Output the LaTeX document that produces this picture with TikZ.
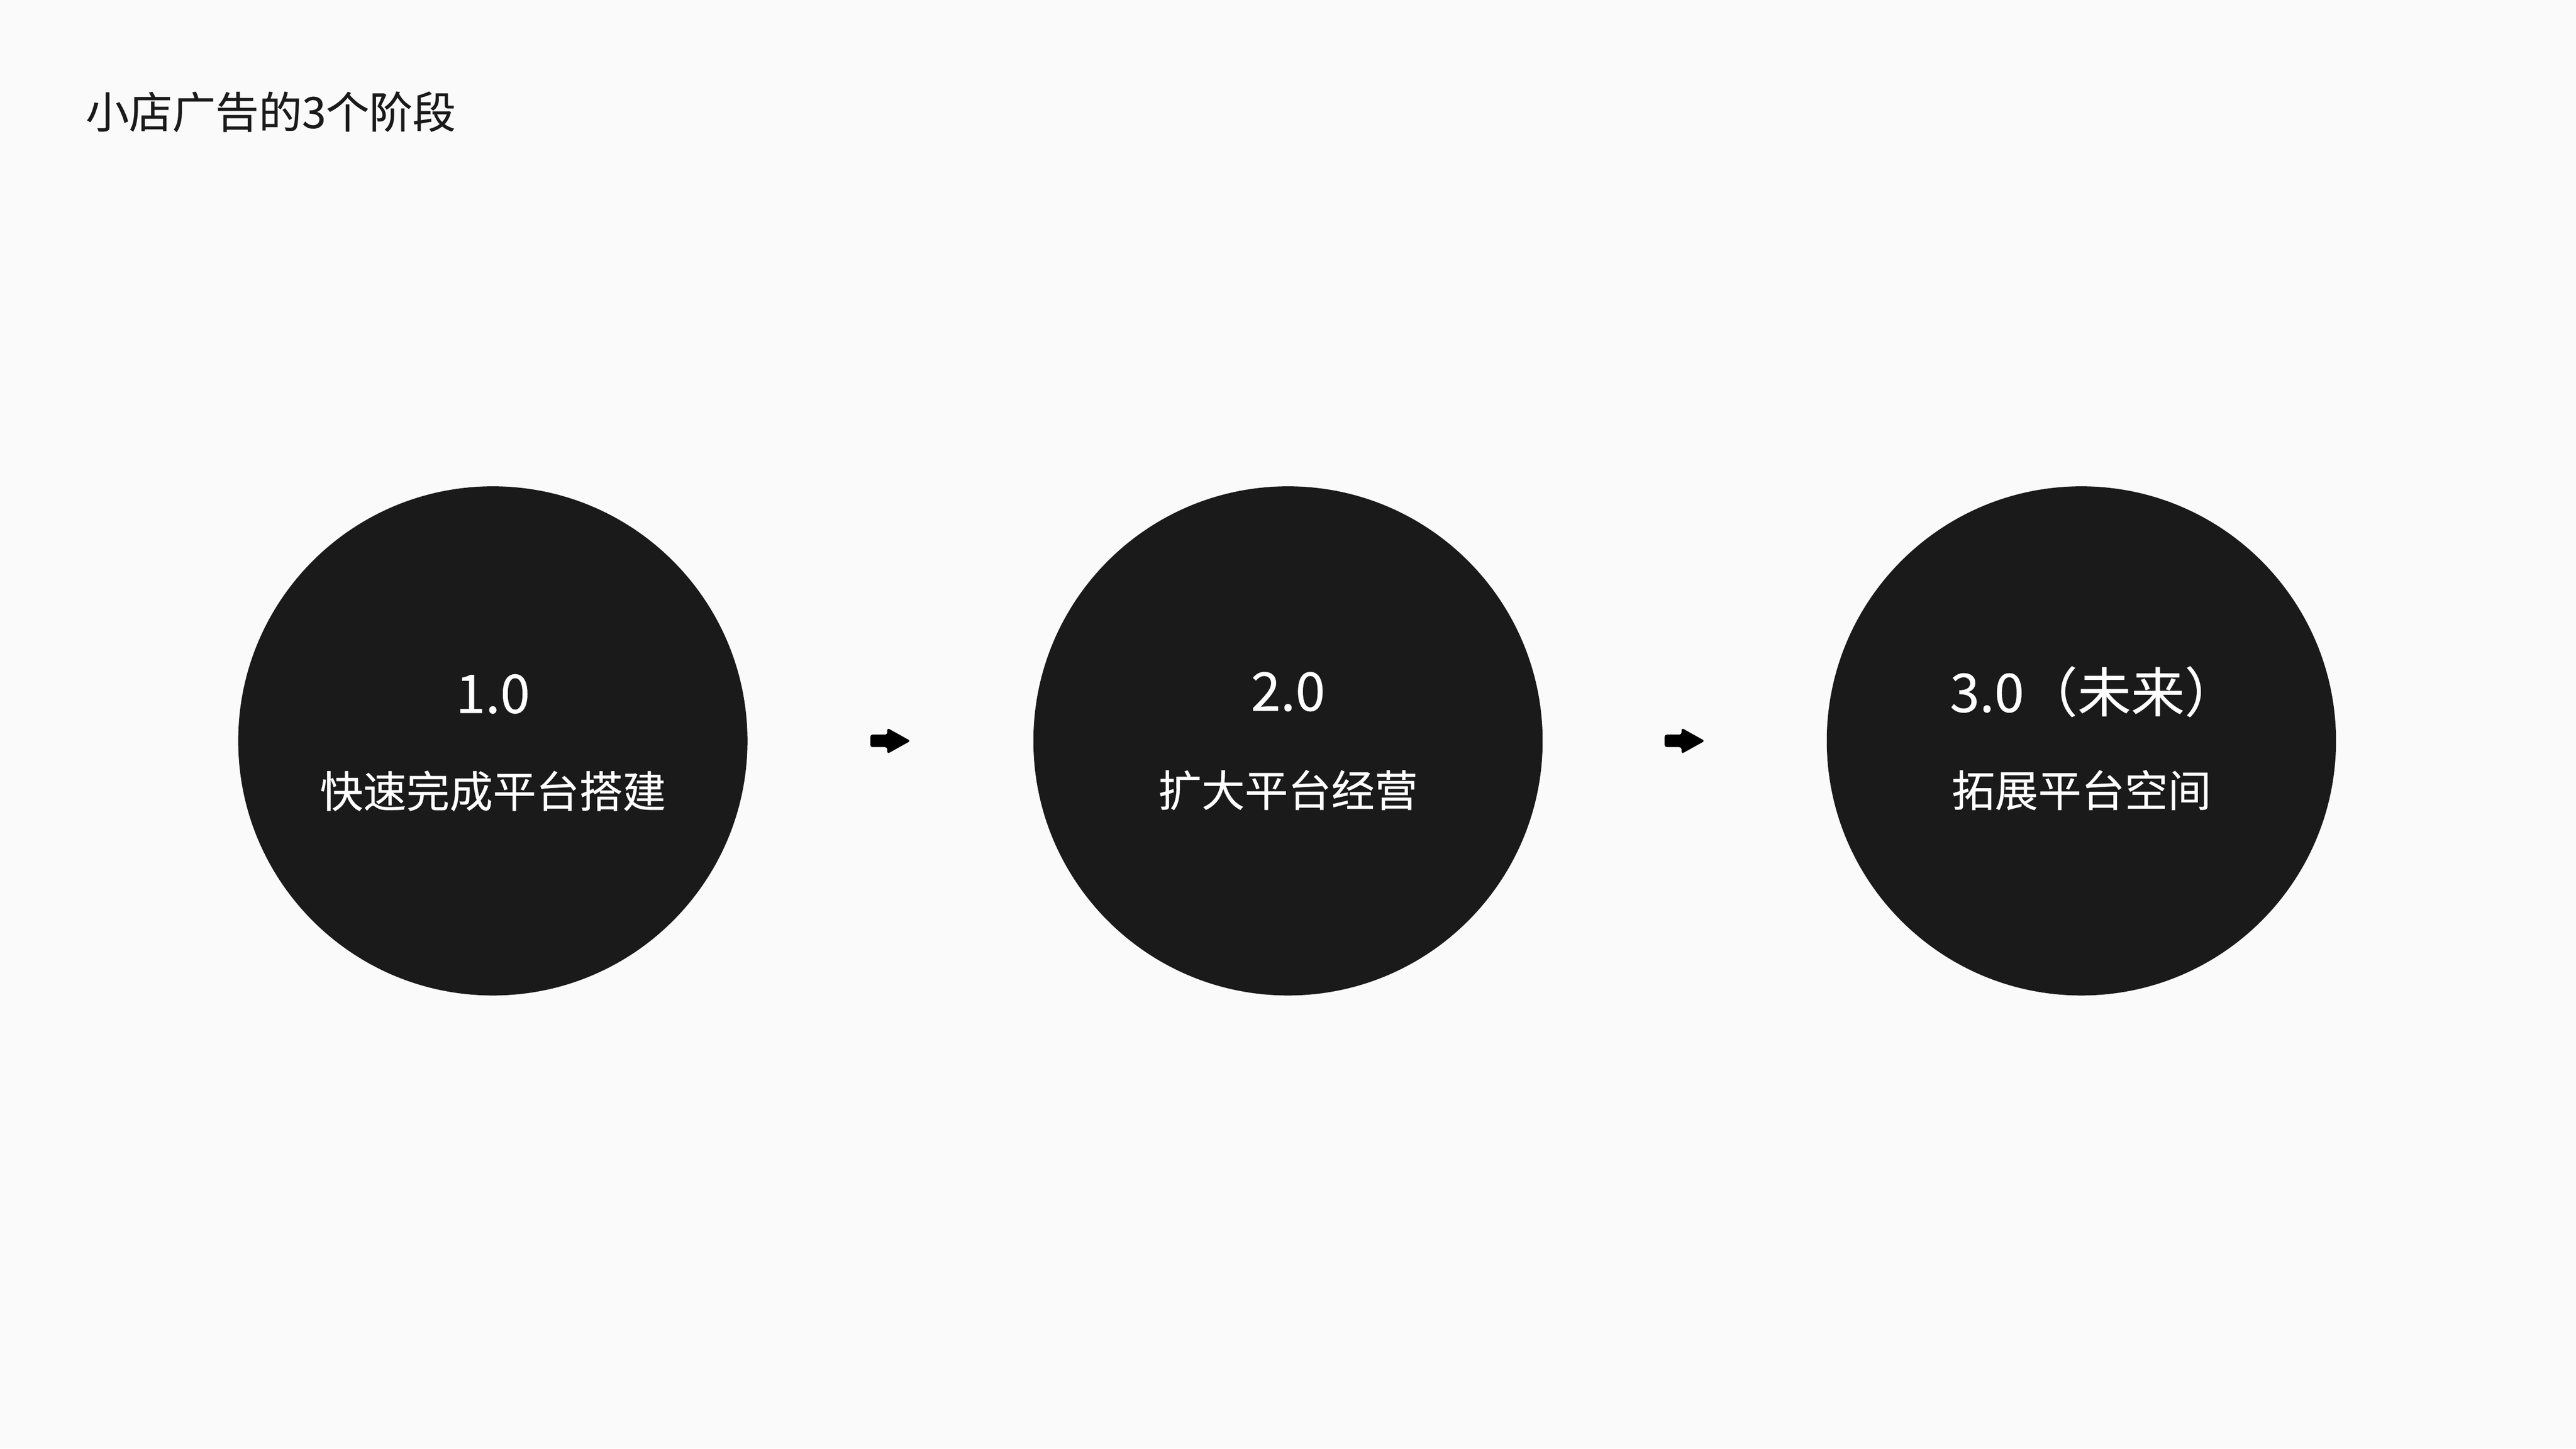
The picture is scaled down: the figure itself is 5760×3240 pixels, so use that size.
\documentclass[tikz,border=0pt]{standalone}
\usepackage{fontspec}
\setmainfont{Noto Sans CJK SC}[FakeBold=0.35]
\usetikzlibrary{calc}
\definecolor{bg}{HTML}{FAFAFA}
\definecolor{ink}{HTML}{1A1A1A}
\begin{document}
\begin{tikzpicture}[x=0.01cm,y=0.01cm,
  stage/.style={circle, fill=ink, minimum size=11.38cm, inner sep=0pt},
  vlabel/.style={text=white, inner sep=0pt, font=\fontsize{34}{40}\selectfont},
  dlabel/.style={text=white, inner sep=0pt, font=\fontsize{27.5}{33}\selectfont},
  flowarrow/.pic={\fill[black, rounded corners=0.05cm] (-45,-14) -- (-7,-14) -- (-7,-29) -- (45,0) -- (-7,29) -- (-7,14) -- (-45,14) -- cycle;}
]
\fill[bg] (0,0) rectangle (5760,3240);
\useasboundingbox (0,0) rectangle (5760,3240);
\node[anchor=west, inner sep=0pt, text=ink, font=\fontsize{27.5}{33}\selectfont] (title) at (191,2990) {小店广告的3个阶段};
\node[stage] (c1) at (1102,1583) {};
\node[stage] (c2) at (2880,1583) {};
\node[stage] (c3) at (4654,1583) {};
\node[vlabel] (v1) at ($(c1.center)+(0,105)$) {1.0};
\node[dlabel] (d1) at ($(c1.center)+(0,-112)$) {快速完成平台搭建};
\node[vlabel] (v2) at ($(c2.center)+(0,110)$) {2.0};
\node[dlabel] (d2) at ($(c2.center)+(0,-110)$) {扩大平台经营};
\node[vlabel] (v3) at ($(c3.center)+(28,110)$) {3.0（未来）};
\node[dlabel] (d3) at ($(c3.center)+(0,-110)$) {拓展平台空间};
\path ($(c1.east)!0.5!(c2.west)$) pic{flowarrow};
\path ($(c2.east)!0.5!(c3.west)$) pic{flowarrow};
\end{tikzpicture}
\end{document}
